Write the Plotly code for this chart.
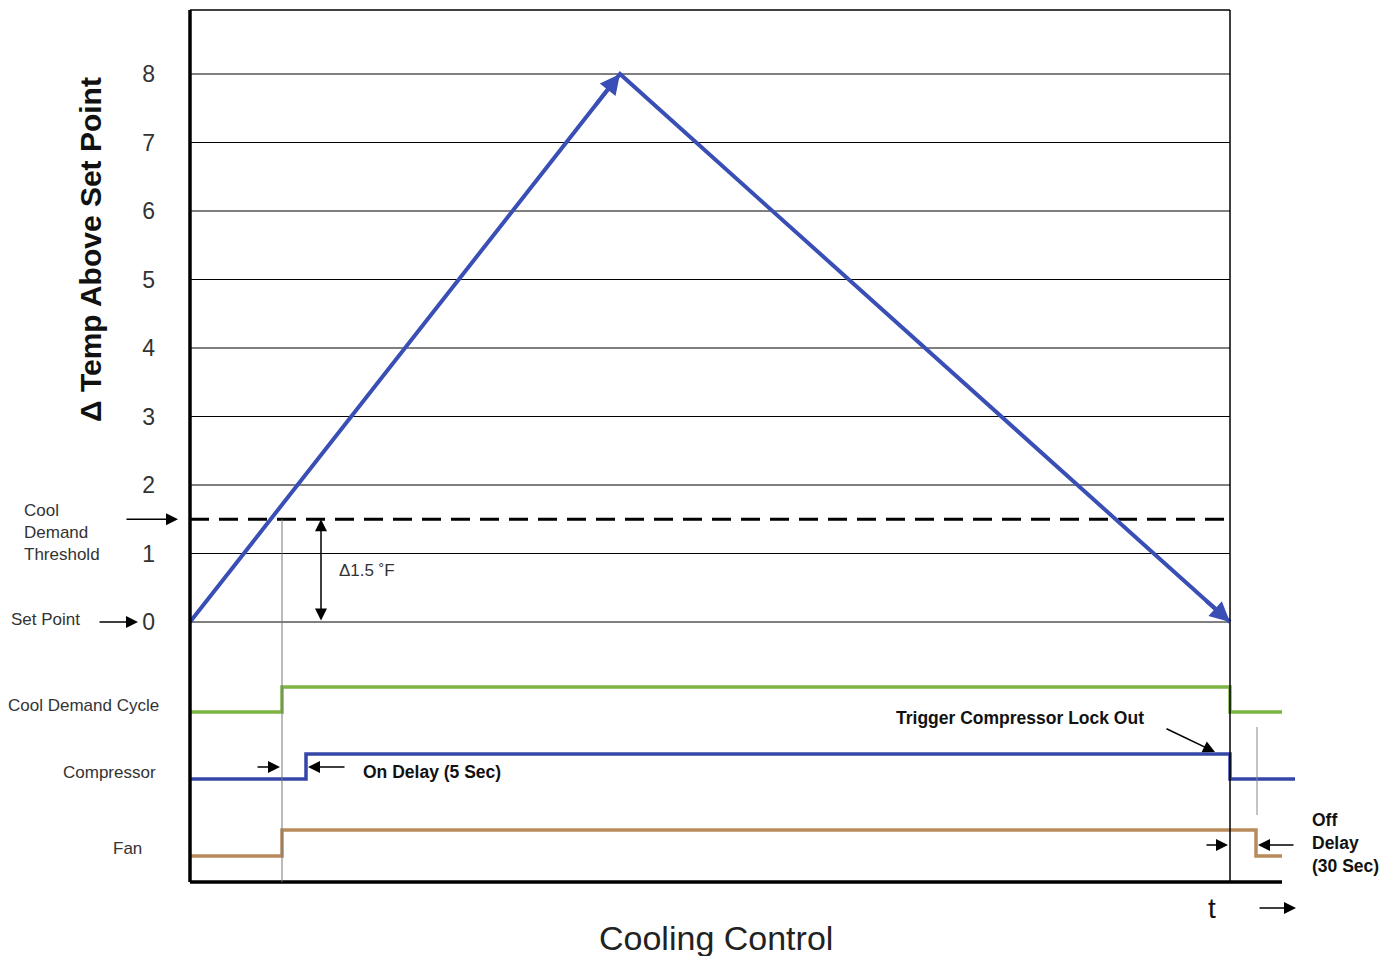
import numpy as np
import plotly.graph_objects as go

# ---------------- data ----------------
temp_levels = [0, 1, 2, 3, 4, 5, 6, 7, 8]          # y tick labels / grid levels
demand_threshold = 1.5                               # cool demand threshold (deg F above set point)
profile_time = [0, 43, 104]                          # time (arbitrary units)
profile_temp = [0, 8, 0]                             # temp above set point

cool_demand_time = [0, 9.2, 104, 109.2]
cool_demand_state = [0, 1, 0, 0]
compressor_time = [0, 11.6, 104, 110.5]
compressor_state = [0, 1, 0, 0]
fan_time = [0, 9.2, 106.6, 109.2]
fan_state = [0, 1, 0, 0]

# ---------------- layout helpers (pixel -> axis units) ----------------
W, H = 1397, 956
X0_PX, XSCALE = 190, 10.0       # t = 0 at px 190, 10 px per time unit
Y0_PX, YSCALE = 622, 68.5       # temp 0 at px 622, 68.5 px per degree


def X(px):
    return (px - X0_PX) / XSCALE


def Y(py):
    return (Y0_PX - py) / YSCALE


FONT = "Liberation Sans, Arial, sans-serif"
BLUE = "#3a4fb5"
COMP_BLUE = "#3446a8"
GREEN = "#7db443"
BROWN = "#b98b5c"

# channel placement for the on/off signals (axis units)
channels = {
    "cool": (Y(712), (712 - 687) / YSCALE),
    "comp": (Y(779), (779 - 754) / YSCALE),
    "fan": (Y(856), (856 - 830) / YSCALE),
}

fig = go.Figure()

# grid lines at each temperature level
gx, gy = [], []
for lv in temp_levels:
    gx += [profile_time[0], profile_time[-1], None]
    gy += [lv, lv, None]
fig.add_trace(go.Scatter(x=gx, y=gy, mode="lines", line=dict(color="black", width=1),
                         hoverinfo="skip", showlegend=False))

# threshold dashed line
fig.add_trace(go.Scatter(x=[profile_time[0], profile_time[-1]], y=[demand_threshold] * 2,
                         mode="lines", line=dict(color="black", width=3, dash="19px,10px"),
                         hoverinfo="skip", showlegend=False))

# temperature profile
fig.add_trace(go.Scatter(x=profile_time, y=profile_temp, mode="lines",
                         line=dict(color=BLUE, width=4), showlegend=False))

# on/off signals
for key, t, s, col in [("cool", cool_demand_time, cool_demand_state, GREEN),
                       ("comp", compressor_time, compressor_state, COMP_BLUE),
                       ("fan", fan_time, fan_state, BROWN)]:
    base, amp = channels[key]
    fig.add_trace(go.Scatter(x=t, y=[base + amp * v for v in s], mode="lines",
                             line=dict(color=col, width=3.5, shape="hv"), showlegend=False))

# ---------------- shapes (frame & guides) ----------------
top, bottom = Y(10), Y(882)
shapes = [
    dict(type="line", x0=0, x1=0, y0=bottom, y1=top, line=dict(color="black", width=3.5)),
    dict(type="line", x0=0, x1=profile_time[-1], y0=top, y1=top, line=dict(color="black", width=1.5)),
    dict(type="line", x0=profile_time[-1], x1=profile_time[-1], y0=bottom, y1=top,
         line=dict(color="black", width=1.5)),
    dict(type="line", x0=0, x1=cool_demand_time[-1], y0=bottom, y1=bottom,
         line=dict(color="black", width=3.5)),
    dict(type="line", x0=cool_demand_time[1], x1=cool_demand_time[1], y0=bottom, y1=demand_threshold,
         line=dict(color="#777777", width=1)),
    dict(type="line", x0=X(1257), x1=X(1257), y0=Y(815), y1=Y(727),
         line=dict(color="#888888", width=1)),
]

# ---------------- annotations ----------------
ann = []


def arrow(x, y, ax, ay, color="black", width=1.5, size=1.6, side="end"):
    ann.append(dict(x=x, y=y, ax=ax, ay=ay, xref="x", yref="y", axref="x", ayref="y",
                    text="", showarrow=True, arrowhead=2, arrowsize=size, arrowwidth=width,
                    arrowcolor=color, arrowside=side, standoff=0, startstandoff=0))


def text(x, y, s, size=17, bold=False, xanchor="left", color="#222", angle=0):
    ann.append(dict(x=x, y=y, xref="x", yref="y", text=f"<b>{s}</b>" if bold else s,
                    showarrow=False, xanchor=xanchor, yanchor="middle", align="left",
                    textangle=angle, font=dict(family=FONT, size=size, color=color)))


# arrowheads on the temperature profile
for i in (1, 2):
    t_tail = profile_time[i] - 2.5
    arrow(profile_time[i], profile_temp[i], t_tail, float(np.interp(t_tail, profile_time, profile_temp)),
          color=BLUE, width=4, size=1.0)

# delta 1.5 double arrow
arrow(X(321), demand_threshold, X(321), 0, side="end+start", width=1.5, size=1.6)
text(X(337), demand_threshold / 2, "Δ1.5 ˚F", size=17, color="#333")

# left labels
text(X(22), demand_threshold - 13 / YSCALE, "Cool<br>Demand<br>Threshold", size=17, color="#333")
arrow(X(178), demand_threshold, X(125), demand_threshold)
text(X(9), 0.03, "Set Point", size=17, color="#333")
arrow(X(138), 0, X(98), 0)
text(X(161), Y(705), "Cool Demand Cycle", size=17, xanchor="right", color="#333")
text(X(158), Y(772), "Compressor", size=17, xanchor="right", color="#333")
text(X(144), Y(848), "Fan", size=17, xanchor="right", color="#333")
text(X(90), Y(250), "Δ Temp Above Set Point", size=30, bold=True, xanchor="center", color="#111", angle=-90)

# on delay
arrow(X(280), Y(767), X(256), Y(767))
arrow(X(308), Y(767), X(346), Y(767))
text(X(361), Y(772), "On Delay (5 Sec)", size=17.5, bold=True, color="#111")

# lock out
text(X(894), Y(718), "Trigger Compressor Lock Out", size=17.5, bold=True, color="#111")
arrow(X(1215), Y(752), X(1165), Y(728))

# off delay
arrow(X(1228), Y(845), X(1205), Y(845))
arrow(X(1258), Y(845), X(1295), Y(845))
text(X(1310), Y(843), "Off<br>Delay<br>(30 Sec)", size=17.5, bold=True, color="#111")

# time axis
text(X(1212), Y(908), "t", size=28, xanchor="center", color="#111")
arrow(X(1296), Y(908), X(1258), Y(908))
text(X(716), Y(938), "Cooling Control", size=34, xanchor="center", color="#222")

fig.update_layout(
    width=W, height=H, margin=dict(l=0, r=0, t=0, b=0),
    paper_bgcolor="white", plot_bgcolor="white",
    shapes=shapes, annotations=ann, showlegend=False,
    font=dict(family=FONT),
    xaxis=dict(range=[X(0), X(W)], visible=False, fixedrange=True),
    yaxis=dict(range=[Y(H), Y(0)], showgrid=False, zeroline=False, showline=False,
               tickvals=temp_levels, ticktext=[str(v) for v in temp_levels],
               ticks="", ticklabelstandoff=35, anchor="free", position=X0_PX / W,
               tickfont=dict(family=FONT, size=23, color="#333"), fixedrange=True),
)

fig.write_html("out.html", config={"displayModeBar": False},
               post_script="document.body.style.margin='0';document.body.style.overflow='hidden';")
